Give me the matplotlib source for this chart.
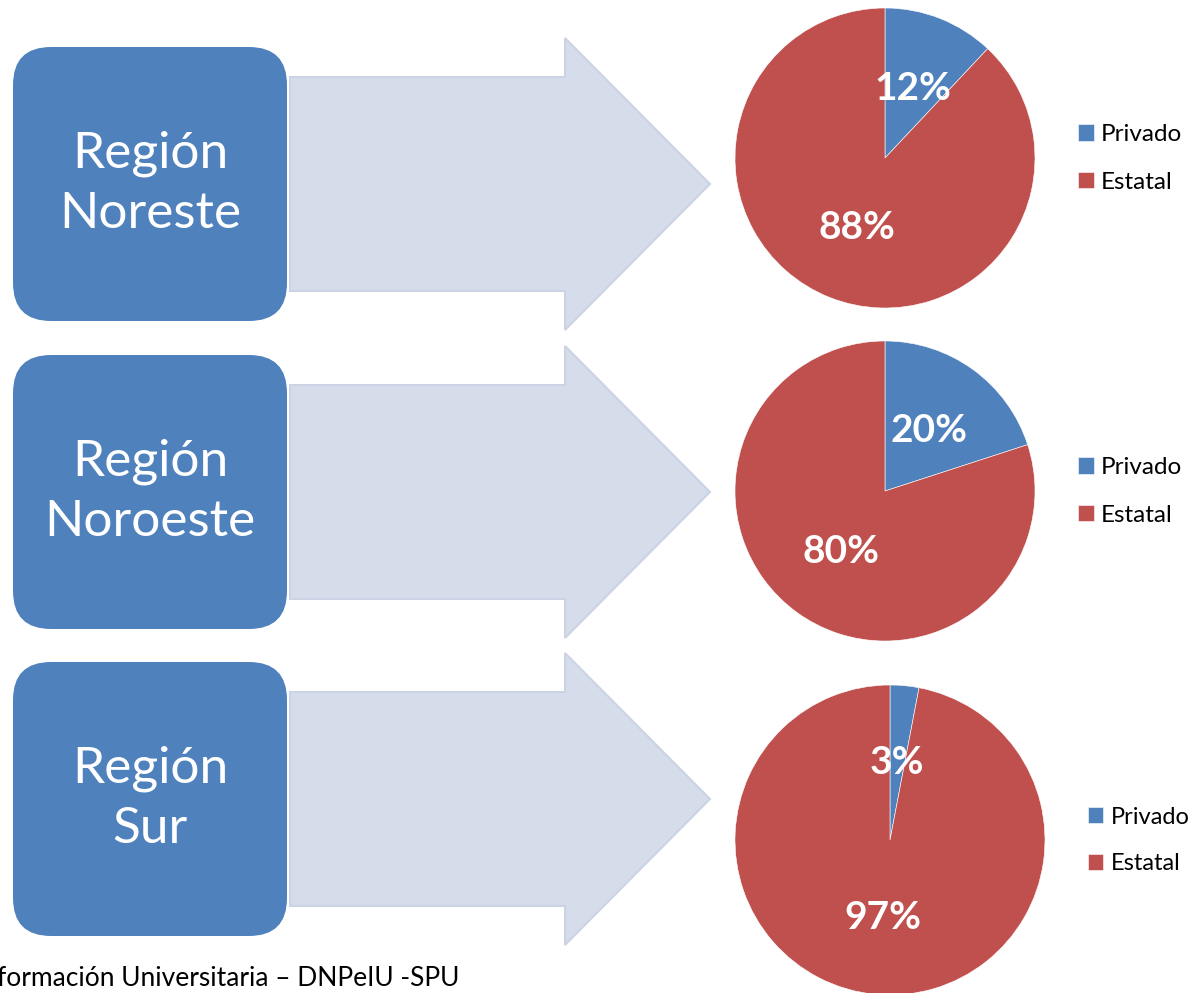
import matplotlib
matplotlib.use("Agg")
import matplotlib.pyplot as plt
from matplotlib.patches import FancyBboxPatch, Polygon

plt.rcParams['font.family'] = ['Lato', 'DejaVu Sans']

# Datos
regiones = ["Región\nNoreste", "Región\nNoroeste", "Región\nSur"]
categorias = ["Privado", "Estatal"]
privado = [12, 20, 3]
estatal = [88, 80, 97]
fuente = "formación Universitaria – DNPeIU -SPU"

azul = "#4F81BD"
rojo = "#C0504D"
flecha_color = "#D5DCEA"

W, H = 1193, 993
fig = plt.figure(figsize=(W / 100, H / 100), dpi=100)

# Fondo: cajas y flechas (coordenadas en píxeles)
bg = fig.add_axes([0, 0, 1, 1])
bg.set_xlim(0, W)
bg.set_ylim(H, 0)
bg.axis("off")

box_tops = [47, 355, 662]
box_h = 274
for i, top in enumerate(box_tops):
    cy = top + box_h / 2
    arrow = [(290, cy - 107), (565, cy - 107), (565, cy - 146), (710, cy),
             (565, cy + 146), (565, cy + 107), (290, cy + 107)]
    bg.add_patch(Polygon(arrow, closed=True, facecolor=flecha_color,
                         edgecolor="#CBD3E4", lw=1.5, zorder=1))
    bg.add_patch(FancyBboxPatch((13, top), 274, box_h,
                                boxstyle="round,pad=0,rounding_size=38",
                                facecolor=azul, edgecolor="none", zorder=2))
    lineas = regiones[i].split("\n")
    for j, linea in enumerate(lineas):
        bg.text(150, cy - 30 + 60 * j, linea, color="white", fontsize=37,
                ha="center", va="center", zorder=3)

bg.text(-3, 979, fuente, fontsize=19, color="black", ha="left", va="center")

# Tortas
pies = [(885, 158, 150, 1078, 17.5), (885, 491, 150, 1078, 17.5),
        (890, 840, 155, 1088, 17)]
for i, (cx, cy, r, lx, fs) in enumerate(pies):
    ax = fig.add_axes([(cx - r) / W, 1 - (cy + r) / H, 2 * r / W, 2 * r / H])
    wedges, _, autotexts = ax.pie(
        [privado[i], estatal[i]], colors=[azul, rojo], startangle=90,
        counterclock=False, autopct="%d%%", pctdistance=0.5,
        wedgeprops=dict(edgecolor="white", linewidth=0.4),
        textprops=dict(color="white", fontsize=28, fontweight="bold"))
    ax.set_xlim(-1, 1)
    ax.set_ylim(-1, 1)
    fig.legend(wedges, categorias, loc="center left",
               bbox_to_anchor=(lx / W, 1 - (cy + 0.5) / H), frameon=False,
               fontsize=fs, handlelength=0.65, handleheight=0.65,
               handletextpad=0.3, labelspacing=1.1, borderpad=0,
               borderaxespad=0)

fig.savefig("out.png", dpi=100)
